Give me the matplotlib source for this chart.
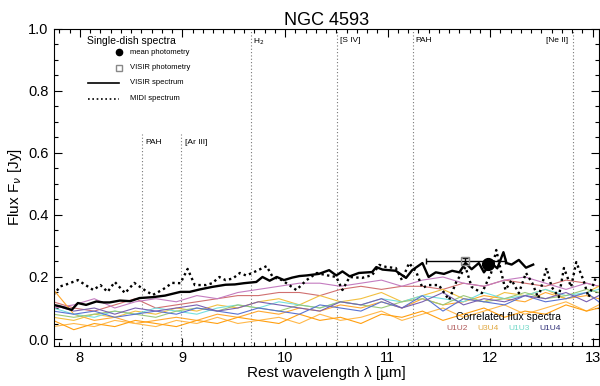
import matplotlib
matplotlib.use("Agg")
import matplotlib.pyplot as plt
from matplotlib.ticker import MultipleLocator

plt.rcParams['font.family'] = ['Liberation Sans', 'DejaVu Sans']

# ---------------- data ----------------
title = "NGC 4593"

# VISIR spectrum (single dish, solid)
visir_wl = [7.74, 7.81, 7.86, 7.92, 7.98, 8.06, 8.16, 8.23, 8.29, 8.39, 8.49, 8.58, 8.71, 8.83,
            8.98, 9.07, 9.17, 9.29, 9.42, 9.51, 9.60, 9.72, 9.78, 9.85, 9.92, 9.99, 10.07, 10.14,
            10.21, 10.33, 10.43, 10.50, 10.56, 10.63, 10.72, 10.85, 10.89, 10.95, 11.08, 11.18,
            11.24, 11.34, 11.40, 11.47, 11.55, 11.63, 11.70, 11.76, 11.82, 11.89, 11.94, 12.01,
            12.07, 12.13, 12.16, 12.21, 12.28, 12.35, 12.42]
visir_flux = [0.110, 0.105, 0.100, 0.094, 0.116, 0.110, 0.121, 0.118, 0.118, 0.124, 0.122, 0.132,
              0.135, 0.140, 0.152, 0.152, 0.160, 0.168, 0.175, 0.176, 0.180, 0.184, 0.200, 0.188,
              0.200, 0.190, 0.198, 0.203, 0.205, 0.210, 0.222, 0.205, 0.218, 0.202, 0.213, 0.216,
              0.232, 0.224, 0.220, 0.197, 0.222, 0.245, 0.200, 0.215, 0.210, 0.220, 0.215, 0.245,
              0.225, 0.245, 0.215, 0.245, 0.228, 0.280, 0.245, 0.240, 0.255, 0.230, 0.240]

# MIDI total flux spectrum (dotted)
midi_wl = [7.74, 7.81, 7.86, 7.98, 8.13, 8.20, 8.27, 8.34, 8.44, 8.53, 8.63, 8.71, 8.81, 8.90,
           8.98, 9.05, 9.12, 9.23, 9.29, 9.36, 9.42, 9.49, 9.56, 9.62, 9.68, 9.82, 9.88, 9.97,
           10.11, 10.21, 10.31, 10.40, 10.50, 10.56, 10.63, 10.75, 10.85, 10.92, 10.99, 11.08,
           11.14, 11.21, 11.28, 11.34, 11.40, 11.50, 11.60, 11.67, 11.76, 11.82, 11.92, 12.01,
           12.06, 12.11, 12.15, 12.21, 12.28, 12.35, 12.41, 12.47, 12.55, 12.60, 12.67, 12.72,
           12.79, 12.84, 12.91, 12.96, 13.03]
midi_flux = [0.142, 0.170, 0.175, 0.190, 0.158, 0.174, 0.152, 0.184, 0.148, 0.181, 0.158, 0.142,
             0.160, 0.181, 0.180, 0.226, 0.174, 0.174, 0.180, 0.200, 0.190, 0.195, 0.213, 0.205,
             0.213, 0.235, 0.200, 0.190, 0.158, 0.190, 0.213, 0.206, 0.200, 0.158, 0.200, 0.197,
             0.206, 0.239, 0.232, 0.229, 0.190, 0.245, 0.216, 0.165, 0.174, 0.174, 0.126, 0.184,
             0.232, 0.168, 0.148, 0.213, 0.287, 0.213, 0.158, 0.190, 0.148, 0.213, 0.181, 0.132,
             0.229, 0.168, 0.135, 0.229, 0.168, 0.248, 0.190, 0.135, 0.197]

# Photometry
mean_phot_wl, mean_phot_flux = 11.98, 0.243
visir_phot_wl, visir_phot_flux = 11.76, 0.252
visir_phot_xerr, visir_phot_yerr = 0.39, 0.010

# Correlated flux spectra
corr_wl = [7.74, 7.94, 8.14, 8.34, 8.54, 8.74, 8.94, 9.14, 9.34, 9.54, 9.74, 9.94, 10.14, 10.34,
           10.54, 10.74, 10.94, 11.14, 11.34, 11.54, 11.74, 11.94, 12.14, 12.34, 12.54, 12.74,
           12.94, 13.06]
corr_u1u2_a = [0.12, 0.10, 0.09, 0.11, 0.13, 0.10, 0.11, 0.12, 0.13, 0.14, 0.14, 0.15, 0.15, 0.14,
               0.16, 0.17, 0.16, 0.17, 0.17, 0.16, 0.18, 0.17, 0.19, 0.18, 0.17, 0.19, 0.18, 0.17]
corr_u1u2_b = [0.10, 0.11, 0.13, 0.10, 0.12, 0.13, 0.12, 0.14, 0.13, 0.15, 0.16, 0.17, 0.18, 0.18,
               0.17, 0.18, 0.19, 0.17, 0.19, 0.20, 0.18, 0.17, 0.19, 0.20, 0.18, 0.16, 0.18, 0.17]
corr_u3u4_a = [0.16, 0.08, 0.06, 0.07, 0.05, 0.06, 0.07, 0.06, 0.08, 0.07, 0.09, 0.08, 0.10, 0.09,
               0.11, 0.10, 0.12, 0.10, 0.13, 0.11, 0.12, 0.14, 0.13, 0.12, 0.15, 0.13, 0.14, 0.13]
corr_u3u4_b = [0.04, 0.05, 0.04, 0.06, 0.05, 0.04, 0.06, 0.05, 0.07, 0.05, 0.06, 0.07, 0.05, 0.08,
               0.06, 0.07, 0.09, 0.06, 0.08, 0.10, 0.07, 0.09, 0.11, 0.08, 0.10, 0.12, 0.09, 0.11]
corr_u3u4_c = [0.07, 0.06, 0.08, 0.07, 0.09, 0.08, 0.10, 0.09, 0.11, 0.10, 0.12, 0.13, 0.11, 0.14,
               0.12, 0.13, 0.15, 0.12, 0.14, 0.16, 0.13, 0.12, 0.15, 0.14, 0.16, 0.13, 0.15, 0.17]
corr_u3u4_d = [0.06, 0.03, 0.05, 0.04, 0.06, 0.05, 0.04, 0.06, 0.05, 0.07, 0.06, 0.05, 0.08, 0.06,
               0.07, 0.05, 0.08, 0.07, 0.09, 0.06, 0.08, 0.10, 0.07, 0.09, 0.08, 0.11, 0.09, 0.10]
corr_u1u3_a = [0.10, 0.08, 0.07, 0.09, 0.08, 0.10, 0.09, 0.08, 0.10, 0.11, 0.10, 0.12, 0.11, 0.10,
               0.12, 0.11, 0.13, 0.12, 0.14, 0.13, 0.12, 0.15, 0.13, 0.14, 0.16, 0.14, 0.15, 0.16]
corr_u1u3_b = [0.08, 0.07, 0.08, 0.09, 0.08, 0.07, 0.09, 0.10, 0.09, 0.11, 0.10, 0.09, 0.11, 0.10,
               0.12, 0.11, 0.10, 0.12, 0.13, 0.11, 0.14, 0.12, 0.13, 0.15, 0.13, 0.14, 0.16, 0.15]
corr_u1u4_a = [0.09, 0.08, 0.09, 0.07, 0.08, 0.09, 0.08, 0.10, 0.09, 0.08, 0.10, 0.09, 0.08, 0.11,
               0.10, 0.09, 0.12, 0.10, 0.14, 0.09, 0.13, 0.12, 0.11, 0.14, 0.12, 0.13, 0.15, 0.12]
corr_u1u4_b = [0.11, 0.09, 0.10, 0.08, 0.10, 0.09, 0.10, 0.11, 0.09, 0.10, 0.12, 0.11, 0.10, 0.09,
               0.12, 0.11, 0.13, 0.10, 0.12, 0.15, 0.11, 0.13, 0.12, 0.14, 0.13, 0.15, 0.12, 0.14]

corr_series = [
    (corr_u1u2_a, '#d07070'), (corr_u1u2_b, '#c47cc0'),
    (corr_u3u4_a, '#ffa830'), (corr_u3u4_b, '#ffb84a'),
    (corr_u3u4_c, '#f2c040'), (corr_u3u4_d, '#ff9f10'),
    (corr_u1u3_a, '#74e0e0'), (corr_u1u3_b, '#9cc878'),
    (corr_u1u4_a, '#5a72d2'), (corr_u1u4_b, '#7a60b0'),
]
baseline_labels = ['U1U2', 'U3U4', 'U1U3', 'U1U4']
baseline_colors = ['#b05a5a', '#e0a840', '#70d8c8', '#303078']

# Emission features
full_lines_wl = [9.665, 10.51, 11.25, 12.81]
full_lines_lab = ['H$_2$', '[S IV]', 'PAH', '[Ne II]']
short_lines_wl = [8.61, 8.99]
short_lines_lab = ['PAH', '[Ar III]']

# ---------------- plot ----------------
fig = plt.figure(figsize=(6.0, 3.86), dpi=100)
ax = fig.add_axes([0.0893, 0.1036, 0.9087, 0.8214])
ax.set_xlim(7.743, 13.06)
ax.set_ylim(-0.0226, 1.0)

for yv, c in corr_series:
    ax.plot(corr_wl, yv, color=c, lw=0.8, zorder=2)

for wl in full_lines_wl:
    ax.axvline(wl, color='#777777', ls=(0, (1, 2)), lw=0.8, zorder=1)
for wl in short_lines_wl:
    ax.plot([wl, wl], [-0.05, 0.66], color='#777777', ls=(0, (1, 2)), lw=0.8, zorder=1)

ax.text(9.69, 0.975, full_lines_lab[0], fontsize=6, va='top', ha='left')
ax.text(10.54, 0.975, full_lines_lab[1], fontsize=6, va='top', ha='left')
ax.text(11.27, 0.975, full_lines_lab[2], fontsize=6, va='top', ha='left')
ax.text(12.76, 0.975, full_lines_lab[3], fontsize=6, va='top', ha='right')
ax.text(8.64, 0.645, short_lines_lab[0], fontsize=6, va='top', ha='left')
ax.text(9.02, 0.645, short_lines_lab[1], fontsize=6, va='top', ha='left')

ax.plot(midi_wl, midi_flux, color='black', ls=(0, (1, 1.4)), lw=1.7, zorder=3)
ax.plot(visir_wl, visir_flux, color='black', lw=1.7, zorder=4)

ax.errorbar(visir_phot_wl, visir_phot_flux, xerr=visir_phot_xerr, yerr=visir_phot_yerr,
            fmt='s', mfc='none', mec='#888888', ms=6, ecolor='black', elinewidth=1.0,
            capsize=2, zorder=5)
ax.plot(mean_phot_wl, mean_phot_flux, 'o', color='black', ms=8.5, zorder=6)

# legend (single-dish)
ax.text(8.07, 0.978, 'Single-dish spectra', fontsize=7.5, va='top', ha='left')
ax.plot(8.38, 0.925, 'o', color='black', ms=4.5)
ax.text(8.49, 0.925, 'mean photometry', fontsize=5.5, va='center', ha='left')
ax.plot(8.38, 0.875, 's', mfc='none', mec='#888888', ms=4.5)
ax.text(8.49, 0.875, 'VISIR photometry', fontsize=5.5, va='center', ha='left')
ax.plot([8.08, 8.38], [0.826, 0.826], color='black', lw=1.2)
ax.text(8.49, 0.826, 'VISIR spectrum', fontsize=5.5, va='center', ha='left')
ax.plot([8.08, 8.38], [0.775, 0.775], color='black', ls=(0, (1, 1.6)), lw=1.2)
ax.text(8.49, 0.775, 'MIDI spectrum', fontsize=5.5, va='center', ha='left')

# legend (correlated flux)
ax.text(12.18, 0.072, 'Correlated flux spectra', fontsize=7.5, va='center', ha='center',
        zorder=7)
for lab, col, xx in zip(baseline_labels, baseline_colors, [11.68, 11.98, 12.28, 12.58]):
    ax.text(xx, 0.035, lab, fontsize=6, color=col, va='center', ha='center', zorder=7)

ax.set_title(title, fontsize=13, pad=3)
ax.set_xlabel('Rest wavelength λ [µm]', fontsize=11, labelpad=1)
ax.set_ylabel('Flux F$_\\nu$ [Jy]', fontsize=11, labelpad=3)

ax.xaxis.set_major_locator(MultipleLocator(1))
ax.xaxis.set_minor_locator(MultipleLocator(0.1))
ax.yaxis.set_major_locator(MultipleLocator(0.2))
ax.yaxis.set_minor_locator(MultipleLocator(0.05))
ax.tick_params(which='both', direction='in', top=True, right=True, labelsize=10.5, width=0.8)
ax.tick_params(which='major', length=6)
ax.tick_params(which='minor', length=3)
ax.set_yticks([0.0, 0.2, 0.4, 0.6, 0.8, 1.0])
ax.set_yticklabels(['0.0', '0.2', '0.4', '0.6', '0.8', '1.0'])
for s in ax.spines.values():
    s.set_linewidth(0.8)

fig.savefig('out.png', dpi=100)
